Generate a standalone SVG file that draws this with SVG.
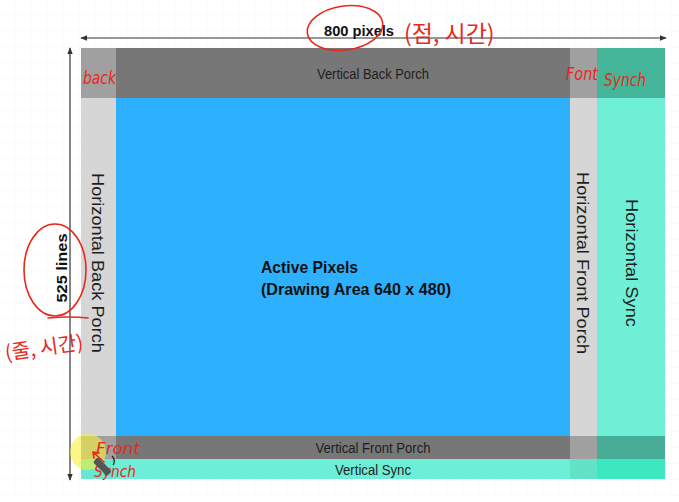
<svg xmlns="http://www.w3.org/2000/svg" width="679" height="502" viewBox="0 0 679 502">
<style>
.lbl{font-family:"Liberation Sans",Arial,sans-serif;font-size:14px;fill:#1e1e1e}
.vlbl{font-family:"Liberation Sans",Arial,sans-serif;font-size:16px;fill:#1e1e1e}
.bold{font-family:"Liberation Sans",Arial,sans-serif;font-weight:bold;fill:#111}
.hand{font-family:"DejaVu Sans","Noto Sans CJK KR",sans-serif;fill:#e8281a;font-style:italic}
.kr{font-family:"Noto Sans CJK KR",sans-serif;fill:#e8281a;font-weight:400}
.ink{fill:none;stroke:#e8281a;stroke-width:1.6;stroke-linecap:round}
.conn{stroke:#333;stroke-width:1.2;fill:none}
</style>
<defs>
<pattern id="grid" width="16" height="16" patternUnits="userSpaceOnUse">
<path d="M16 0V16M0 16H16" fill="none" stroke="#ececec" stroke-width="1" stroke-dasharray="1 2"/>
</pattern>
<marker id="ah" viewBox="0 0 10 10" refX="9" refY="5" markerWidth="6" markerHeight="6" orient="auto-start-reverse">
<path d="M0 1L10 5L0 9Z" fill="#333"/>
</marker>
</defs>
<rect width="679" height="502" fill="#fff"/>
<rect width="679" height="502" fill="url(#grid)"/>

<g id="active-pixels">
<rect x="116" y="98" width="454" height="338" fill="#2db0fd"/>
<text class="bold" x="261" y="273" font-size="17" textLength="97" lengthAdjust="spacingAndGlyphs">Active Pixels</text>
<text class="bold" x="261" y="295" font-size="17" textLength="190" lengthAdjust="spacingAndGlyphs">(Drawing Area 640 x 480)</text>
</g>
<g id="vertical-back-porch">
<rect x="116" y="48" width="454" height="50" fill="#777"/>
<text class="lbl" x="373" y="79" text-anchor="middle" textLength="112" lengthAdjust="spacingAndGlyphs">Vertical Back Porch</text>
</g>
<g id="horizontal-back-porch">
<rect x="81" y="98" width="35" height="338" fill="#d6d6d6"/>
<rect x="81" y="48" width="35" height="50" fill="#a0a0a0"/>
<rect x="81" y="436" width="35" height="23" fill="#a0a0a0"/>
<rect x="81" y="459" width="35" height="20" fill="#68e8d0"/>
<text class="vlbl" transform="translate(92,263) rotate(90)" text-anchor="middle" textLength="180" lengthAdjust="spacingAndGlyphs">Horizontal Back Porch</text>
</g>
<g id="horizontal-front-porch">
<rect x="570" y="98" width="27" height="338" fill="#d6d6d6"/>
<rect x="570" y="48" width="27" height="50" fill="#a0a0a0"/>
<rect x="570" y="436" width="27" height="23" fill="#a0a0a0"/>
<rect x="570" y="459" width="27" height="20" fill="#62e3c8"/>
<text class="vlbl" transform="translate(577,263) rotate(90)" text-anchor="middle" textLength="182" lengthAdjust="spacingAndGlyphs">Horizontal Front Porch</text>
</g>
<g id="horizontal-sync">
<rect x="597" y="98" width="68" height="338" fill="#6ff0d6"/>
<rect x="597" y="48" width="68" height="50" fill="#45b59a"/>
<rect x="597" y="436" width="68" height="23" fill="#48ad96"/>
<rect x="597" y="459" width="68" height="20" fill="#3de8c0"/>
<text class="vlbl" transform="translate(626,263) rotate(90)" text-anchor="middle" textLength="128" lengthAdjust="spacingAndGlyphs">Horizontal Sync</text>
</g>
<g id="vertical-front-porch">
<rect x="116" y="436" width="454" height="23" fill="#777"/>
<text class="lbl" x="373" y="453" text-anchor="middle" textLength="115" lengthAdjust="spacingAndGlyphs">Vertical Front Porch</text>
</g>
<g id="vertical-sync">
<rect x="116" y="459" width="454" height="20" fill="#6cefd6"/>
<text class="lbl" x="373" y="475" text-anchor="middle" textLength="76" lengthAdjust="spacingAndGlyphs">Vertical Sync</text>
</g>

<g id="connectors">
<line class="conn" x1="81" y1="38" x2="666" y2="38" marker-start="url(#ah)" marker-end="url(#ah)"/>
<line class="conn" x1="70" y1="48" x2="70" y2="480" marker-start="url(#ah)" marker-end="url(#ah)"/>
</g>
<g id="dimension-labels">
<text class="bold" x="359" y="36" font-size="14" text-anchor="middle" textLength="70" lengthAdjust="spacingAndGlyphs">800 pixels</text>
<text class="bold" transform="translate(67,268) rotate(-90)" font-size="14" text-anchor="middle" textLength="69" lengthAdjust="spacingAndGlyphs">525 lines</text>
</g>

<g id="annotations">
<ellipse class="ink" cx="345" cy="28" rx="38" ry="22" transform="rotate(-8 345 28)"/>
<text class="kr" x="404" y="42" font-size="23">(점, 시간)</text>
<ellipse class="ink" cx="55" cy="270" rx="31" ry="46"/>
<path class="ink" d="M48 318Q70 316 88 318"/>
<text class="kr" transform="translate(6,360) rotate(-8)" font-size="20">(줄, 시간)</text>
<text class="hand" x="83" y="84" font-size="17" textLength="33" lengthAdjust="spacingAndGlyphs">back</text>
<text class="hand" x="566" y="80" font-size="17" textLength="32" lengthAdjust="spacingAndGlyphs">Font</text>
<text class="hand" x="604" y="86" font-size="18" textLength="42" lengthAdjust="spacingAndGlyphs">Synch</text>
<circle cx="88" cy="452" r="18" fill="#f7f03a" opacity="0.6"/>
<text class="hand" x="96" y="454" font-size="15" textLength="44" lengthAdjust="spacingAndGlyphs">Front</text>
<text class="hand" x="94" y="477" font-size="15" textLength="42" lengthAdjust="spacingAndGlyphs">Synch</text>
<path class="ink" d="M104 462L93 452M93 452L99 453M93 452L94 458"/>
<rect x="99" y="457" width="7" height="20" rx="2" fill="#555" transform="rotate(-45 102 467)"/>
<path d="M112 456Q116 460 113 465" fill="none" stroke="#222" stroke-width="1.2"/>
</g>
</svg>
